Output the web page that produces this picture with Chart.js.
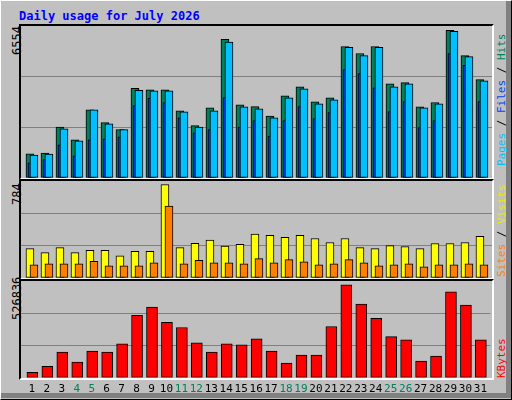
<!DOCTYPE html>
<html><head><meta charset="utf-8">
<script src="https://cdn.jsdelivr.net/npm/chart.js@4.4.0/dist/chart.umd.min.js"></script>
<style>
html,body{margin:0;padding:0;background:#fff;}
#wrap{position:absolute;left:0;top:0;width:510px;height:398px;background:#c0c0c0;border-left:1px solid #fff;border-top:1px solid #fff;border-right:1px solid #000;border-bottom:1px solid #000;}
#shade{position:absolute;left:0;top:0;width:505px;height:392px;border-right:5px solid #808080;border-bottom:5px solid #808080;box-sizing:content-box;}
.panel{position:absolute;border-left:2px solid #000;border-top:2px solid #000;border-right:2px solid #fff;border-bottom:2px solid #fff;}
canvas{position:absolute;}
.t{position:absolute;font-family:"DejaVu Sans Mono",monospace;font-size:12px;white-space:nowrap;line-height:12px;}
.rot{transform-origin:0 0;transform:rotate(-90deg);}
.r{font-size:11px;}
</style></head><body>
<div id="wrap"><div id="shade"></div>
<div class="t" style="left:18px;top:9px;color:#0000ff;font-weight:bold;font-size:12px;">Daily usage for July 2026</div>
<div class="panel" style="left:18px;top:23px;width:471px;height:152px;"></div>
<div class="panel" style="left:18px;top:178px;width:471px;height:97px;"></div>
<div class="panel" style="left:18px;top:278px;width:471px;height:97px;"></div>
<div class="t rot" style="left:10px;top:54px;">6554</div>
<div class="t rot" style="left:10px;top:204px;">784</div>
<div class="t rot" style="left:10px;top:319px;">526836</div>
<div class="t rot r" style="left:495px;top:165px;"><span style="color:#00c0ff">Pages</span> / <span style="color:#0040ff">Files</span> / <span style="color:#00805c">Hits</span></div>
<div class="t rot r" style="left:495px;top:276px;"><span style="color:#ff8000">Sites</span> / <span style="color:#e8e800">Visits</span></div>
<div class="t rot r" style="left:495px;top:377px;color:#ff0000">KBytes</div>
<canvas id="c1" width="471" height="152" style="left:20px;top:25px;width:471px;height:152px"></canvas>
<canvas id="c2" width="471" height="97" style="left:20px;top:180px;width:471px;height:97px"></canvas>
<canvas id="c3" width="471" height="120" style="left:20px;top:280px;width:471px;height:120px"></canvas>
</div>
<script>
const days=[1,2,3,4,5,6,7,8,9,10,11,12,13,14,15,16,17,18,19,20,21,22,23,24,25,26,27,28,29,30,31];
const weekend=[4,5,11,12,18,19,25,26];
const hits=[1040,1070,2200,1650,2940,2390,2085,3865,3805,3805,2895,2255,3025,5975,3155,3080,2675,3545,3935,3285,3460,5670,5370,5670,4065,4110,3065,3255,6365,5280,4240];
const pages=[985,1030,2125,1605,2940,2340,2085,3780,3760,3760,2850,2200,2895,5860,3065,2980,2590,3460,3850,3200,3370,5630,5280,5630,3935,4065,3025,3200,6320,5235,4195];
const files=[650,795,1430,955,1650,1690,1780,3125,3430,3255,2590,1950,2085,3470,2200,2475,1810,2475,3080,2560,2820,4675,4500,3890,2865,3300,2170,2475,5370,4860,3300];
const visits=[238,205,246,205,224,224,180,216,216,756,246,281,306,257,273,355,344,328,344,319,287,319,246,238,262,254,238,279,279,287,336];
const sites=[106,115,115,115,134,98,98,98,123,581,115,142,123,123,115,156,123,148,131,106,115,148,123,98,106,115,90,106,106,115,106];
const kbytes=[29600,62800,140500,85000,146000,140500,184800,340000,384500,301300,273600,190400,140500,184800,179300,212600,146000,79500,123800,123800,279100,506500,401100,323500,223700,207000,90600,118300,467700,395600,207000];
const maxTop=6554,maxMid=784,maxBot=526836;
const PX=15; // pixels per day
function pts(arr,offPx){return arr.map((v,i)=>({x:days[i]+offPx/PX,y:v}));}
function ds(arr,off,color,w,order){return {data:pts(arr,off),backgroundColor:color,borderColor:'#000',borderWidth:1,borderSkipped:false,barThickness:w,grouped:false,order:order};}
function makeChart(id,datasets,max,showX){
  return new Chart(document.getElementById(id),{type:'bar',data:{datasets},
  options:{responsive:false,animation:false,devicePixelRatio:1,layout:{padding:0},
   plugins:{legend:{display:false},tooltip:{enabled:false}},
   scales:{
    x:{type:'linear',min:0.27,max:31.67,offset:false,display:showX,grid:{display:false,drawTicks:false},border:{display:false},
      afterBuildTicks:s=>{s.ticks=days.map(d=>({value:d}));},
      ticks:{autoSkip:false,maxRotation:0,padding:5,font:{family:'DejaVu Sans Mono',size:11},
        color:c=>weekend.includes(days[c.index])?'#00805c':'#000',callback:v=>String(v)}},
    y:{min:0,max:max,display:true,border:{display:false},
      afterBuildTicks:s=>{s.ticks=[0,max/3,2*max/3,max].map(v=>({value:v}));},
      ticks:{display:false},grid:{drawTicks:false,lineWidth:1,color:c=>(c.index===1||c.index===2)?'#808080':'rgba(0,0,0,0)'}}
   }}});
}
// lower order = drawn on top
makeChart('c1',[ds(hits,-2,'#00805c',8,3),ds(files,0,'#0040ff',8,2),ds(pages,2,'#00c0ff',8,1)],maxTop,false);
makeChart('c2',[ds(visits,-2,'#ffff00',8,2),ds(sites,2,'#ff8000',8,1)],maxMid,false);
makeChart('c3',[ds(kbytes,0.5,'#ff0000',11,1)],maxBot,true);
</script>
</body></html>
